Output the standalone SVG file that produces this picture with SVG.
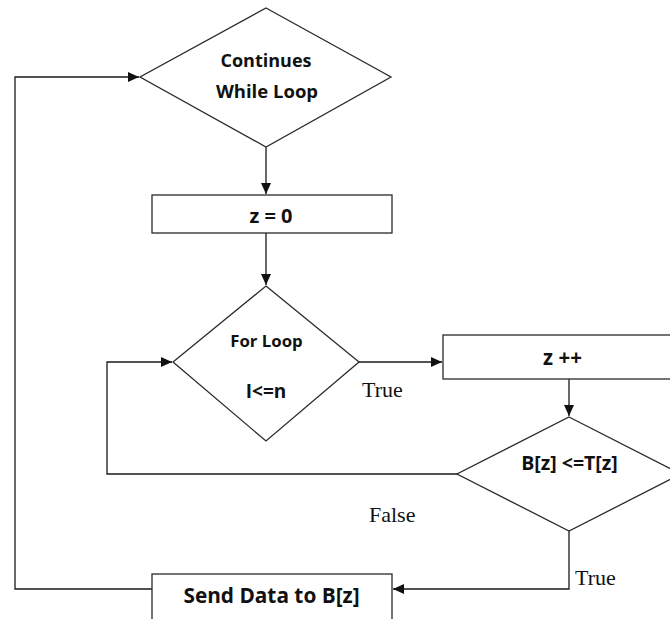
<svg xmlns="http://www.w3.org/2000/svg" width="670" height="619" viewBox="0 0 670 619">
<style>
.shape{fill:#fff;stroke:#2a2a2a;stroke-width:1.3}
.conn{fill:none;stroke:#1a1a1a;stroke-width:1.3}
.lbl{font-family:"Open Sans","Liberation Sans",sans-serif;font-weight:bold;fill:#111;text-anchor:middle}
.edge{font-family:"Liberation Serif","Times New Roman",serif;fill:#111;font-size:22px}
</style>
<defs>
<marker id="arr" markerUnits="userSpaceOnUse" markerWidth="12" markerHeight="10" refX="11" refY="5" orient="auto">
<path d="M0,0 L11,5 L0,10 Z" fill="#111"/>
</marker>
</defs>
<rect width="670" height="619" fill="#fff"/>
<g id="connectors">
<path class="conn" d="M152,589 H15 V77 H139" marker-end="url(#arr)"/>
<path class="conn" d="M266,147 V194" marker-end="url(#arr)"/>
<path class="conn" d="M266,233 V285" marker-end="url(#arr)"/>
<path class="conn" d="M359,362 H442" marker-end="url(#arr)"/>
<path class="conn" d="M569,379 V416" marker-end="url(#arr)"/>
<path class="conn" d="M457,474 H107 V362 H172" marker-end="url(#arr)"/>
<path class="conn" d="M569,531 V589 H393" marker-end="url(#arr)"/>
</g>
<g id="while-loop">
<polygon class="shape" points="266,8 391,77 266,147 140,77"/>
<text class="lbl" x="266" y="66.5" font-size="18">Continues</text>
<text class="lbl" x="267" y="98" font-size="18.5">While Loop</text>
</g>
<g id="z-init">
<rect class="shape" x="152" y="195" width="240" height="38"/>
<text class="lbl" x="271" y="223" font-size="20" xml:space="preserve">z = 0</text>
</g>
<g id="for-loop">
<polygon class="shape" points="266,286 359,362 266,441 173,362"/>
<text class="lbl" x="266.5" y="347" font-size="16.8">For Loop</text>
<text class="lbl" x="266" y="398" font-size="19">I&lt;=n</text>
</g>
<g id="z-inc">
<rect class="shape" x="443" y="335" width="240" height="44"/>
<text class="lbl" x="562.5" y="365" font-size="20.5">z ++</text>
</g>
<g id="compare">
<polygon class="shape" points="569,417 681,474 569,531 457,474"/>
<text class="lbl" x="569.5" y="470" font-size="19.5">B[z] &lt;=T[z]</text>
</g>
<g id="send-data">
<rect class="shape" x="152" y="574" width="240" height="50"/>
<text class="lbl" x="271.5" y="603" font-size="20.8">Send Data to B[z]</text>
</g>
<g id="edge-labels">
<text class="edge" x="362" y="397">True</text>
<text class="edge" x="369" y="522" font-size="23">False</text>
<text class="edge" x="575" y="585">True</text>
</g>
</svg>
